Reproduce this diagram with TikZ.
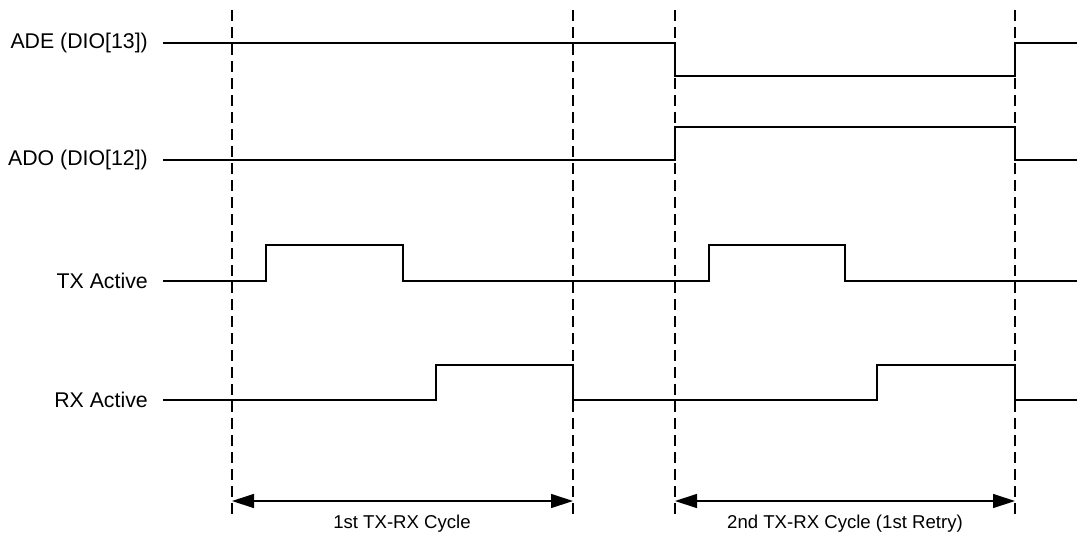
\documentclass[tikz,border=0pt]{standalone}
\usepackage{fontspec}
\setmainfont{Liberation Sans}
\usetikzlibrary{arrows.meta}
\begin{document}
\begin{tikzpicture}[x=1pt,y=-1pt,
  sig/.style={line width=2.3pt,line join=miter},
  guide/.style={line width=1.2pt,dash pattern=on 11pt off 6pt},
  dimline/.style={line width=1.3pt,{Triangle[length=22pt,width=14pt]}-{Triangle[length=22pt,width=14pt]}},
  lbl/.style={anchor=east,inner sep=0pt,font=\fontsize{21.3}{24}\selectfont},
  cyc/.style={inner sep=0pt,font=\fontsize{18.6}{22}\selectfont}]
\useasboundingbox (0,0) rectangle (1077,538);
% guides
\foreach \n/\x in {g1/232,g2/573,g3/675,g4/1015}{
  \coordinate (\n t) at (\x,10);
  \coordinate (\n b) at (\x,517);
  \draw[guide] (\n t) -- (\n b);
}
% labels
\node[lbl] (ade) at (148,43) {ADE (DIO[13])};
\node[lbl] (ado) at (148,160) {ADO (DIO[12])};
\node[lbl] (tx) at (148,281) {TX Active};
\node[lbl] (rx) at (148,400) {RX Active};
% signals
\draw[sig] (163,43) -- (675,43) -- (675,76) -- (1015,76) -- (1015,43) -- (1077,43);
\draw[sig] (163,160) -- (675,160) -- (675,127) -- (1015,127) -- (1015,160) -- (1077,160);
\draw[sig] (163,281) -- (266,281) -- (266,245) -- (403,245) -- (403,281) -- (709,281) -- (709,245) -- (845,245) -- (845,281) -- (1077,281);
\draw[sig] (163,400) -- (436,400) -- (436,365) -- (573,365) -- (573,400) -- (877,400) -- (877,365) -- (1015,365) -- (1015,400) -- (1077,400);
% cycles
\coordinate (a1) at (232,501);
\coordinate (a2) at (573,501);
\coordinate (a3) at (675,501);
\coordinate (a4) at (1015,501);
\draw[dimline] (a1) -- (a2);
\draw[dimline] (a3) -- (a4);
\node[cyc] (c1) at (402,524) {1st TX-RX Cycle};
\node[cyc] (c2) at (845,524) {2nd TX-RX Cycle (1st Retry)};
\end{tikzpicture}
\end{document}
